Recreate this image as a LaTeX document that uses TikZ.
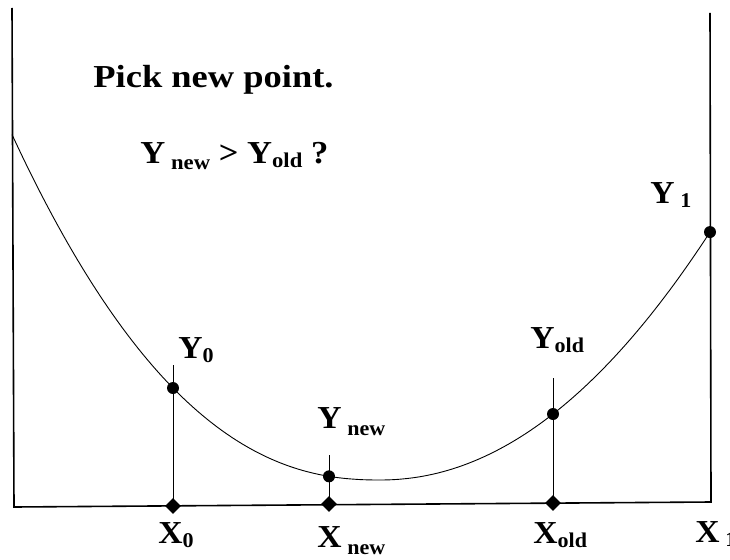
\documentclass[tikz,border=0pt]{standalone}
\usepackage{fontspec}
\setmainfont{Liberation Serif}
\usetikzlibrary{shapes.geometric}
\newcommand{\lo}[2][4pt]{\raisebox{-#1}{\fontsize{21}{21}\selectfont #2}}
\newcommand{\widen}[2][1.05]{\scalebox{#1}[1]{#2}}
\tikzset{
  axisline/.style={line width=1.6pt},
  ydot/.style={circle, fill, inner sep=0pt, minimum size=12pt},
  xmark/.style={diamond, fill, inner sep=0pt, minimum size=16pt},
  lab/.style={anchor=base west, inner sep=0pt, font=\bfseries\fontsize{32}{32}\selectfont},
  head/.style={anchor=base west, inner sep=0pt, font=\bfseries\fontsize{32}{32}\selectfont},
  declare function={
    lft(\t)=480-92*(max(380-\t,1)/207)^2.3;
    rgt(\t)=480-66*(max(\t-380,1)/173)^2.05;
    fy(\t)=(\t<380)*lft(\t)+(\t>=380)*rgt(\t);
  },
}

\begin{document}
\begin{tikzpicture}[x=1pt,y=-1pt,thick]
    \useasboundingbox (0,0) rectangle (730,559);

    % Frame
    \coordinate (tl) at (12,8);
    \coordinate (bl) at (14,507);
    \coordinate (br) at (711,502);
    \coordinate (tr) at (710,13);
    \draw[axisline] (tl) -- (bl) -- (br) -- (tr);

    % Points on the axis and on the curve
    \coordinate (a0) at (173,506);   \coordinate (c0) at (173,{fy(173)});   \coordinate (t0) at (173,365);
    \coordinate (anew) at (329,504); \coordinate (cnew) at (329,{fy(329)}); \coordinate (tnew) at (329,455);
    \coordinate (aold) at (553,503); \coordinate (cold) at (553,{fy(553)}); \coordinate (told) at (553,378);
    \coordinate (c1) at (710,{fy(710)});

    % Curve
    \draw[line width=0.9pt] plot[domain=12:710, samples=140] (\x,{fy(\x)});

    % Ticks
    \draw (t0) -- (a0);
    \draw (tnew) -- (anew);
    \draw (told) -- (aold);

    % Markers
    \node[xmark] (x0) at (a0) {};
    \node[xmark] (xnew) at (anew) {};
    \node[xmark] (xold) at (aold) {};
    \node[ydot] (y0) at (c0) {};
    \node[ydot] (ynew) at (cnew) {};
    \node[ydot] (yold) at (cold) {};
    \node[ydot] (y1) at (c1) {};

    % Labels
    \node[lab] (ly0) at (178,358) {\widen{Y\lo{0}}};
    \node[lab] (lynew) at (317,428) {\widen{Y\,\lo[7pt]{new}}};
    \node[lab] (lyold) at (530,348) {\widen{Y\lo{old}}};
    \node[lab] (ly1) at (650,203) {\widen{Y\,\lo{1}}};
    \node[lab] (lx0) at (158,543) {\widen{X\lo{0}}};
    \node[lab] (lxnew) at (317,547) {\widen{X\,\lo[7pt]{new}}};
    \node[lab] (lxold) at (533,543) {\widen{X\lo{old}}};
    \node[lab] (lx1) at (695,542) {\widen{X\,\lo{1}}};

    % Question
    \node[head] (pick) at (93,88) {\widen[1.14]{Pick new point.}};
    \node[head] (ask) at (140,163) {\widen[1.08]{Y\,\lo[6pt]{new} > Y\lo{old} ?}};
\end{tikzpicture}
\end{document}
